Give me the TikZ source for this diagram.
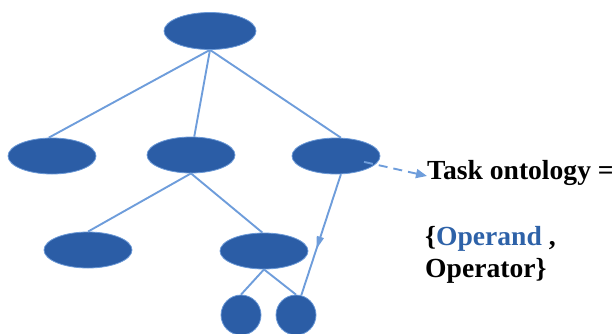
\documentclass[tikz,border=0pt]{standalone}
\usepackage{fontspec}
\setmainfont{Liberation Serif}
\usepackage{xcolor}
\usetikzlibrary{shapes.geometric,arrows.meta,decorations.markings}
\definecolor{nodefill}{HTML}{2B5DA6}
\definecolor{nodeedge}{HTML}{6A98D6}
\definecolor{wire}{HTML}{6E9DDB}
\definecolor{opblue}{HTML}{2E62A8}

\begin{document}
\begin{tikzpicture}[x=1pt,y=-1pt,
  blob/.style={ellipse,draw=nodeedge,line width=0.8pt,fill=nodefill,minimum width=88pt,minimum height=36pt,inner sep=0pt},
  leaf/.style={circle,draw=nodeedge,line width=0.8pt,fill=nodefill,minimum size=40pt,inner sep=0pt},
  wire/.style={draw=wire,line width=1.9pt},
  midarr/.style={wire,postaction={decorate},decoration={markings,mark=at position 0.62 with {\arrow[wire]{Triangle[length=13pt,width=7pt]}}}},
  dasharr/.style={wire,dash pattern=on 9pt off 6pt,-{Triangle[length=11pt,width=9pt]}},
  label/.style={inner sep=0pt,font=\fontsize{27.6}{32}\selectfont\bfseries,align=left}]
  \useasboundingbox (0,0) rectangle (615,333);
  % tree
  \node[blob,minimum width=92pt,minimum height=37pt] (root) at (210,31) {};
  \node[blob] (l) at (52,156) {};
  \node[blob] (m) at (191,155) {};
  \node[blob] (r) at (336,156) {};
  \node[blob] (ml) at (88,250) {};
  \node[blob] (mr) at (264,251) {};
  \node[leaf] (c1) at (241,315) {};
  \node[leaf] (c2) at (296,315) {};
  \foreach \x/\y in {root.south/l.100,root.south/m.80,root.south/r.75,m.south/ml.north,m.south/mr.95,mr.south/c1.north,mr.south/c2.north}
    \draw[wire] (\x) -- (\y);
  \draw[midarr] (r.-75) -- (c2.75);
  % ontology text
  \node[label,anchor=base west] (task) at (427,179) {Task ontology =};
  \node[label,anchor=base west] (ops) at (425,277) {\{\textcolor{opblue}{Operand} ,\\Operator\}};
  \draw[dasharr] ([xshift=-14pt]r.-8) -- ([yshift=3pt]task.base west);
\end{tikzpicture}
\end{document}
